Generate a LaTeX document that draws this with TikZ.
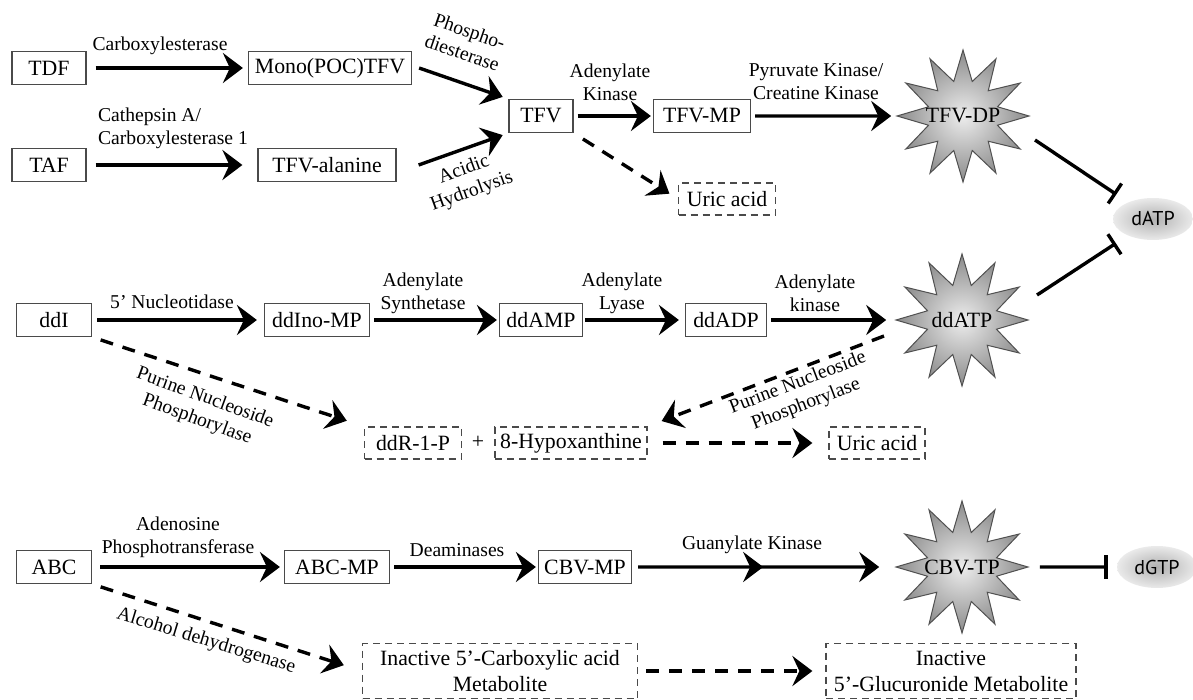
\documentclass[tikz,border=0pt]{standalone}
\usepackage{fontspec}
\setmainfont{Liberation Serif}
\newfontfamily\dnafont{PT Sans}
\usetikzlibrary{arrows.meta,shapes.geometric,decorations.markings}
\definecolor{framegray}{HTML}{4A4A4A}
\definecolor{starrim}{HTML}{505050}
\definecolor{starlight}{HTML}{EDEDED}
\definecolor{stardark}{HTML}{8A8A8A}
\definecolor{blobgray}{HTML}{B0B0B0}
\definecolor{blobedge}{HTML}{EAEAEA}
\newcommand{\nodefont}{\fontsize{10.9}{13}\selectfont}
\newcommand{\labfont}{\fontsize{9.8}{11.5}\selectfont}
\newcommand{\starlbl}[1]{\makebox[0pt]{#1}}

\begin{document}
\begin{tikzpicture}[x=.5pt,y=-.5pt,>={Stealth[length=10pt,width=15pt,inset=3.5pt]},
 box/.style={draw=framegray,line width=.6pt,font=\nodefont,minimum height=16.5pt,inner sep=1pt},
 dbox/.style={box,minimum height=16pt,dash pattern=on 3.5pt off 2.5pt},
 burst/.style={star,star points=12,star point ratio=1.85,minimum size=66pt,inner sep=0pt,draw=starrim,line width=.5pt,inner color=starlight,outer color=stardark,font=\nodefont},
 blob/.style={ellipse,minimum width=40pt,minimum height=21pt,inner sep=0pt,inner color=blobgray,outer color=blobedge,font=\dnafont\fontsize{10}{12}\selectfont},
 lab/.style={font=\labfont,align=center,inner sep=0pt},
 conv/.style={->,line width=1.7pt},
 side/.style={conv,dash pattern=on 6.5pt off 5pt},
 inhib/.style={-{Bar[width=12pt]},line width=1.7pt}]
 \path[use as bounding box] (0,0) rectangle (1193,700);

 % tenofovir (TDF, TAF)
 \node[box,minimum width=37pt] (tdf) at (49,68) {TDF};
 \node[box,minimum width=81.5pt] (mono) at (330,68) {Mono(POC)TFV};
 \node[box,minimum width=37pt] (taf) at (49,165) {TAF};
 \node[box,minimum width=69pt] (tfvala) at (327,165) {TFV-alanine};
 \node[box,minimum width=32pt] (tfv) at (541,116) {TFV};
 \node[box,minimum width=48.5pt] (tfvmp) at (702,116) {TFV-MP};
 \node[burst] (tfvdp) at (963,116) {\starlbl{TFV-DP}};
 \node[dbox,minimum width=48.5pt] (uric1) at (727,199) {Uric acid};
 \node[blob] (datp) at (1153,219) {dATP};
 \coordinate (tfvdpout) at (1035,140);

 \node[lab] (lcarb) at (160,46) {Carboxylesterase};
 \node[lab,align=left] (lcath) at (173,128) {Cathepsin A/\\Carboxylesterase 1};
 \node[lab,rotate=-19] (lphos) at (466,42) {Phospho-\\diesterase};
 \node[lab,rotate=20] (lacid) at (468,181) {Acidic\\Hydrolysis};
 \node[lab] (ladk) at (610,82) {Adenylate\\Kinase};
 \node[lab] (lpyr) at (816,82) {Pyruvate Kinase/\\Creatine Kinase};

 \draw[conv,shorten <=4.5pt,shorten >=2.5pt] (tdf) -- (mono);
 \draw[conv,shorten <=4.5pt,shorten >=7.5pt] (taf) -- (tfvala);
 \draw[conv,shorten >=3pt] ([xshift=3.5pt]mono.east) -- (tfv.north west);
 \draw[conv,shorten >=3pt] ([xshift=11pt]tfvala.east) -- (tfv.south west);
 \draw[conv,shorten <=2pt,shorten >=1pt] (tfv) -- (tfvmp);
 \draw[conv,shorten <=2pt,shorten >=2pt] (tfvmp) -- (tfvdp);
 \draw[side,shorten <=5.5pt,shorten >=5pt] (tfv.south east) -- (uric1.west);
 \draw[inhib,shorten >=7pt] (tfvdpout) -- (datp);

 % didanosine (ddI)
 \node[box,minimum width=37.5pt] (ddi) at (54,320) {ddI};
 \node[box,minimum width=52.5pt] (ddino) at (317,320) {ddIno-MP};
 \node[box,minimum width=41.5pt] (ddamp) at (541,320) {ddAMP};
 \node[box,minimum width=40.5pt] (ddadp) at (726,320) {ddADP};
 \node[burst] (ddatp) at (962,320) {\starlbl{ddATP}};
 \node[dbox,minimum width=48.5pt] (ddr) at (413,443) {ddR-1-P};
 \node[font=\nodefont,inner sep=0pt] (plus) at (478,442) {+};
 \node[dbox,minimum width=76pt] (hypox) at (571,443) {8-Hypoxanthine};
 \node[dbox,minimum width=48pt] (uric2) at (877,443) {Uric acid};
 \coordinate (ddatpout) at (884,336);
 \coordinate (ddatpinh) at (1037,295);

 \node[lab] (lnuc) at (172,302) {5’ Nucleotidase};
 \node[lab] (lsyn) at (423,293) {Adenylate\\Synthetase};
 \node[lab] (llya) at (622,293) {Adenylate\\Lyase};
 \node[lab] (lkin) at (815,293) {Adenylate\\kinase};
 \node[lab,rotate=-20] (lpnpa) at (201,409) {Purine Nucleoside\\Phosphorylase};
 \node[lab,rotate=21] (lpnpb) at (802,394) {Purine Nucleoside\\Phosphorylase};

 \draw[conv,shorten <=2.5pt,shorten >=3.5pt] (ddi) -- (ddino);
 \draw[conv,shorten <=2pt,shorten >=1pt] (ddino) -- (ddamp);
 \draw[conv,shorten <=1pt,shorten >=3pt] (ddamp) -- (ddadp);
 \draw[conv,shorten <=2pt,shorten >=4pt] (ddadp) -- (ddatp);
 \draw[side,shorten <=4.5pt,shorten >=9pt] (ddi.south east) -- (ddr.north west);
 \draw[side,shorten >=7.5pt] (ddatpout) -- (hypox.north east);
 \draw[side,shorten <=7.5pt,shorten >=8pt] (hypox) -- (uric2);
 \draw[inhib,shorten >=7pt] (ddatpinh) -- (datp);

 % abacavir (ABC)
 \node[box,minimum width=37.5pt] (abc) at (54,567) {ABC};
 \node[box,minimum width=52.5pt] (abcmp) at (337,567) {ABC-MP};
 \node[box,minimum width=46.5pt] (cbvmp) at (585,567) {CBV-MP};
 \node[burst] (cbvtp) at (962,567) {\starlbl{CBV-TP}};
 \node[blob] (dgtp) at (1157,567) {dGTP};
 \node[dbox,minimum width=137.5pt,minimum height=27.5pt,align=center] (carbx) at (500,671) {Inactive 5’-Carboxylic acid\\Metabolite};
 \node[dbox,minimum width=125pt,minimum height=27.5pt,align=center] (gluc) at (951,671) {Inactive\\5’-Glucuronide Metabolite};

 \node[lab] (lado) at (178,537) {Adenosine\\Phosphotransferase};
 \node[lab] (ldea) at (457,550) {Deaminases};
 \node[lab] (lguk) at (752,545) {Guanylate Kinase};
 \node[lab,rotate=-17] (lalc) at (206,641) {Alcohol dehydrogenase};

 \draw[conv,shorten <=4pt,shorten >=2pt] (abc) -- (abcmp);
 \draw[conv,shorten <=2pt,shorten >=1pt] (abcmp) -- (cbvmp);
 \draw[conv,shorten <=3pt,shorten >=7.5pt,postaction={decorate},
  decoration={markings,mark=at position .5 with {\arrow{>}}}] (cbvmp) -- (cbvtp);
 \draw[side,shorten <=4.5pt,shorten >=9.5pt] (abc.south east) -- (carbx.west);
 \draw[side,shorten <=4pt,shorten >=6.5pt] (carbx) -- (gluc);
 \draw[inhib,shorten <=5pt,shorten >=4.5pt] (cbvtp) -- (dgtp);
\end{tikzpicture}
\end{document}
